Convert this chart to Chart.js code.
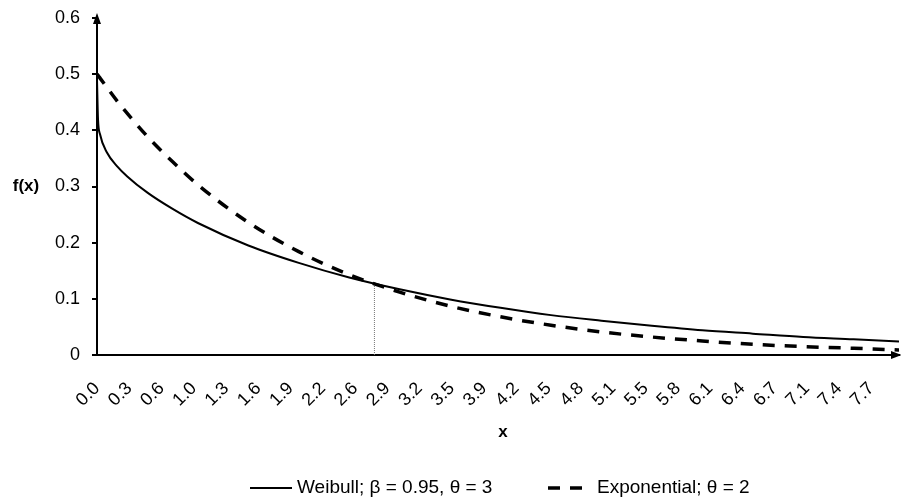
<!DOCTYPE html>
<html>
<head>
<meta charset="utf-8">
<script src="https://cdn.jsdelivr.net/npm/chart.js@4.4.1/dist/chart.umd.min.js"></script>
<style>
  html, body { margin: 0; padding: 0; background: #fff; }
  #wrap { width: 901px; height: 503px; }
</style>
</head>
<body>
<div id="wrap"><canvas id="pdfChart" width="901" height="503"></canvas></div>
<script>
// x values where both densities were sampled
const xValues = [0, 0.01, 0.03, 0.1, 0.2, 0.3, 0.5, 0.75, 1, 1.5, 2, 2.5, 3, 3.5, 4, 4.5, 5, 5.5, 6, 6.5, 7, 7.5, 7.95];

// Weibull; beta = 0.95, theta = 3
const weibullValues = [0.49, 0.42, 0.393, 0.36, 0.336, 0.318, 0.289, 0.26, 0.235, 0.195, 0.164, 0.138, 0.117, 0.099, 0.084, 0.071, 0.061, 0.052, 0.044, 0.038, 0.032, 0.028, 0.024];

// Exponential; theta = 2
const expValues = [0.5, 0.498, 0.493, 0.476, 0.452, 0.430, 0.389, 0.344, 0.303, 0.236, 0.184, 0.143, 0.112, 0.087, 0.068, 0.053, 0.041, 0.032, 0.025, 0.019, 0.015, 0.012, 0.009];

// where the two curves cross
const crossX = 2.75;
const crossY = 0.127;

// category labels shown under the x axis
const xTickLabels = ['0.0', '0.3', '0.6', '1.0', '1.3', '1.6', '1.9', '2.2', '2.6', '2.9', '3.2', '3.5', '3.9',
                     '4.2', '4.5', '4.8', '5.1', '5.5', '5.8', '6.1', '6.4', '6.7', '7.1', '7.4', '7.7'];
const xTickStep = 0.3198;

const yTicks = [0, 0.1, 0.2, 0.3, 0.4, 0.5, 0.6];

const seriesNames = ['Weibull; \u03b2 = 0.95, \u03b8 = 3', 'Exponential; \u03b8 = 2'];

const FONT = '"Liberation Sans", Arial, sans-serif';

// arrows on the axes, axis titles and the legend under the chart
const extras = {
    id: 'extras',
    afterDraw(chart) {
        const ctx = chart.ctx;
        const a = chart.chartArea;
        ctx.save();
        ctx.fillStyle = '#000';

        // arrow heads
        ctx.beginPath();
        ctx.moveTo(a.left, a.top - 5);
        ctx.lineTo(a.left - 4, a.top + 6);
        ctx.lineTo(a.left + 4, a.top + 6);
        ctx.closePath();
        ctx.fill();
        ctx.beginPath();
        ctx.moveTo(a.right + 3, a.bottom);
        ctx.lineTo(a.right - 8, a.bottom - 4);
        ctx.lineTo(a.right - 8, a.bottom + 4);
        ctx.closePath();
        ctx.fill();

        // axis titles
        ctx.font = 'bold 17px ' + FONT;
        ctx.textAlign = 'center';
        ctx.textBaseline = 'middle';
        ctx.fillText('f(x)', 26, chart.scales.y.getPixelForValue(0.3));
        ctx.fillText('x', 503, 432);

        // legend
        const ly = 488;
        ctx.font = '19px ' + FONT;
        ctx.textAlign = 'left';
        ctx.strokeStyle = '#000';
        ctx.lineWidth = 2;
        ctx.beginPath();
        ctx.moveTo(250, ly);
        ctx.lineTo(292, ly);
        ctx.stroke();
        ctx.fillText(seriesNames[0], 297, ly);

        ctx.lineWidth = 3.5;
        ctx.setLineDash([12, 10]);
        ctx.beginPath();
        ctx.moveTo(548, ly);
        ctx.lineTo(590, ly);
        ctx.stroke();
        ctx.setLineDash([]);
        ctx.fillText(seriesNames[1], 597, ly);
        ctx.restore();
    }
};

const ctx = document.getElementById('pdfChart').getContext('2d');
const pdfChart = new Chart(ctx, {
    type: 'line',
    data: {
        datasets: [
            {
                label: seriesNames[0],
                data: xValues.map((x, i) => ({ x: x, y: weibullValues[i] })),
                borderColor: '#000',
                borderWidth: 2,
                pointRadius: 0,
                cubicInterpolationMode: 'monotone',
                fill: false
            },
            {
                label: seriesNames[1],
                data: xValues.map((x, i) => ({ x: x, y: expValues[i] })),
                borderColor: '#000',
                borderWidth: 3.5,
                borderDash: [12, 10],
                pointRadius: 0,
                cubicInterpolationMode: 'monotone',
                fill: false
            },
            {
                label: 'cross',
                data: [{ x: crossX, y: 0 }, { x: crossX, y: crossY }],
                borderColor: '#777',
                borderWidth: 1,
                borderDash: [1, 1],
                pointRadius: 0,
                fill: false
            }
        ]
    },
    options: {
        responsive: false,
        animation: false,
        layout: { padding: { top: 18, right: 2, left: 0, bottom: 0 } },
        plugins: {
            legend: { display: false },
            tooltip: { enabled: false }
        },
        scales: {
            x: {
                type: 'linear',
                min: 0,
                max: 7.95,
                grid: { display: false },
                border: { display: true, color: '#000', width: 2 },
                afterBuildTicks: axis => {
                    axis.ticks = xTickLabels.map((l, i) => ({ value: i * xTickStep }));
                },
                afterFit: scale => {
                    scale.height = 148;
                    scale.paddingLeft = 0;
                    scale.paddingRight = 0;
                },
                ticks: {
                    autoSkip: false,
                    maxRotation: 45,
                    minRotation: 45,
                    padding: 15,
                    color: '#000',
                    font: { family: FONT, size: 18 },
                    callback: (value, index) => xTickLabels[index]
                }
            },
            y: {
                min: 0,
                max: 0.6,
                grid: {
                    display: true,
                    drawOnChartArea: false,
                    drawTicks: true,
                    tickLength: 5,
                    color: '#000',
                    lineWidth: 2
                },
                border: { display: true, color: '#000', width: 2 },
                afterBuildTicks: axis => {
                    axis.ticks = yTicks.map(v => ({ value: v }));
                },
                afterFit: scale => {
                    scale.width = 97;
                    scale.paddingTop = 0;
                    scale.paddingBottom = 0;
                },
                ticks: {
                    padding: 12,
                    color: '#000',
                    font: { family: FONT, size: 18 },
                    callback: v => v === 0 ? '0' : v.toFixed(1)
                }
            }
        }
    },
    plugins: [extras]
});
</script>
</body>
</html>
